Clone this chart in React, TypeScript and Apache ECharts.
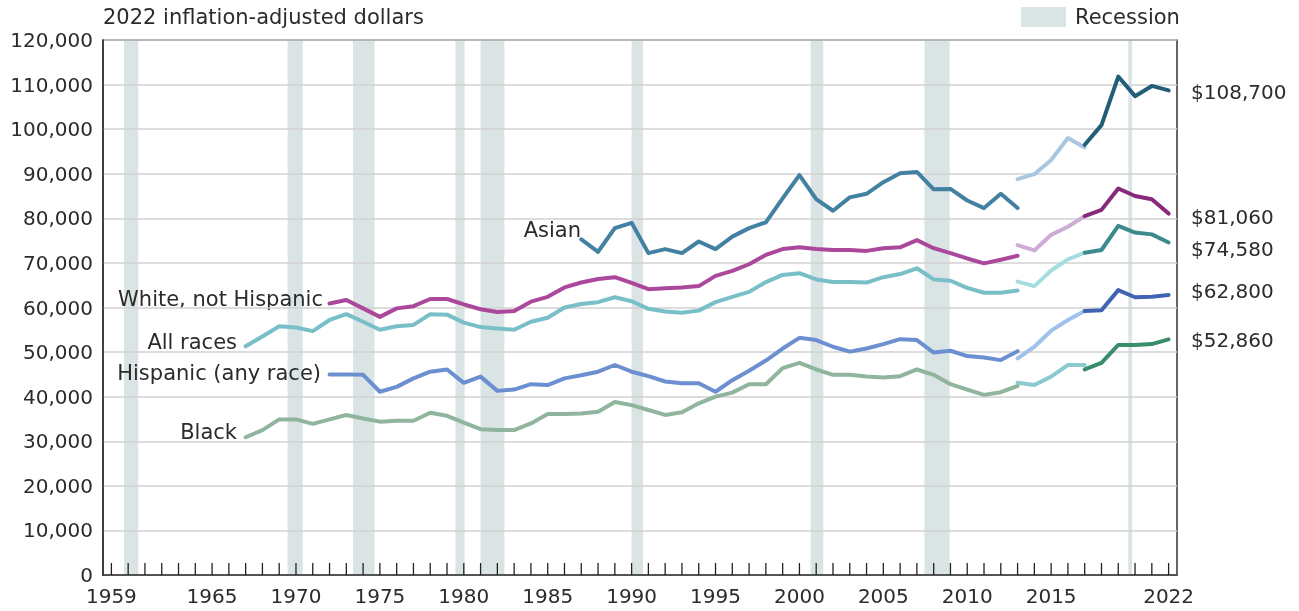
import React, { useEffect, useRef } from "react";
import * as echarts from "echarts";

const FIRST_YEAR = 1959;
const LAST_YEAR = 2022;
const years: string[] = [];
const yearNums: number[] = [];
for (let y = FIRST_YEAR; y <= LAST_YEAR; y++) {
  years.push(String(y));
  yearNums.push(y);
}
const labeledYears = ["1959", "1965", "1970", "1975", "1980", "1985", "1990", "1995", "2000", "2005", "2010", "2015", "2022"];

// Recession periods (in axis year units)
const recessions: [number, number][] = [
  [1959.75, 1960.6],
  [1969.5, 1970.4],
  [1973.4, 1974.68],
  [1979.5, 1980.05],
  [1981.0, 1982.42],
  [1990.0, 1990.68],
  [2000.67, 2001.42],
  [2007.45, 2008.95],
  [2019.6, 2019.82],
];

// Asian
const asianStart1 = 1987;
const asian1 = [75300, 72500, 77800, 79000, 72200, 73100, 72200, 74800, 73100, 75900, 77800, 79100, 84500, 89700, 84300, 81700, 84700, 85500, 88100, 90100, 90400, 86500, 86600, 84000, 82300, 85500, 82300];
const asian2 = [88800, 89900, 93100, 98000, 95900];
const asian3 = [96500, 100900, 111800, 107400, 109700, 108700];

// White, not Hispanic
const whiteStart1 = 1972;
const white1 = [60900, 61700, 59800, 57900, 59800, 60300, 61900, 61900, 60700, 59600, 59000, 59200, 61300, 62400, 64500, 65600, 66400, 66800, 65500, 64100, 64300, 64500, 64800, 67100, 68200, 69700, 71800, 73100, 73500, 73100, 72900, 72900, 72700, 73300, 73500, 75100, 73300, 72200, 71000, 69900, 70700, 71600];
const white2 = [74000, 72800, 76300, 78100, 80500];
const white3 = [80500, 81900, 86700, 85000, 84300, 81060];

// All races
const allStart1 = 1967;
const all1 = [51300, 53500, 55800, 55500, 54700, 57200, 58500, 56800, 55000, 55800, 56100, 58500, 58400, 56600, 55600, 55300, 55000, 56800, 57700, 60000, 60800, 61200, 62300, 61400, 59700, 59100, 58800, 59300, 61200, 62400, 63500, 65700, 67300, 67700, 66300, 65700, 65700, 65600, 66800, 67500, 68800, 66300, 66000, 64400, 63300, 63300, 63800];
const all2 = [65800, 64800, 68300, 70800, 72300];
const all3 = [72300, 72900, 78300, 76800, 76400, 74580];

// Hispanic (any race)
const hispStart1 = 1972;
const hisp1 = [45000, 45000, 44900, 41100, 42200, 44100, 45600, 46100, 43100, 44500, 41300, 41600, 42800, 42600, 44100, 44800, 45600, 47100, 45600, 44600, 43400, 43000, 43000, 41100, 43700, 45800, 48100, 50800, 53200, 52700, 51200, 50100, 50800, 51800, 52900, 52700, 49900, 50300, 49100, 48800, 48200, 50200];
const hisp2 = [48600, 51200, 54800, 57200, 59200];
const hisp3 = [59200, 59400, 63900, 62300, 62400, 62800];

// Black
const blackStart1 = 1967;
const black1 = [30900, 32500, 34900, 34900, 33900, 34900, 35900, 35100, 34400, 34600, 34600, 36400, 35700, 34200, 32700, 32500, 32500, 34000, 36100, 36100, 36200, 36600, 38800, 38100, 37000, 35900, 36500, 38500, 40000, 40900, 42800, 42800, 46400, 47600, 46100, 44900, 44900, 44500, 44300, 44600, 46100, 44900, 42800, 41600, 40400, 41000, 42400];
const black2 = [43100, 42600, 44500, 47100, 47100];
const black3 = [46100, 47600, 51600, 51600, 51800, 52860];

const seg2Start = 2013;
const seg3Start = 2017;

const endLabels = ["$108,700", "$81,060", "$74,580", "$62,800", "$52,860"];

const FONT = "DejaVu Sans";
const TEXT = "#2b2b2b";

function toPairs(start: number, vals: number[]) {
  return vals.map((v, i) => [String(start + i), v]);
}

function lineSeries(name: string, start: number, vals: number[], color: string) {
  return {
    name,
    type: "line",
    xAxisIndex: 0,
    yAxisIndex: 0,
    data: toPairs(start, vals),
    symbol: "none",
    z: 3,
    lineStyle: { color, width: 4, cap: "round", join: "round" },
  };
}

export default function App() {
  const ref = useRef<HTMLDivElement>(null);
  useEffect(() => {
    if (!ref.current) return;
    const chart = echarts.init(ref.current, undefined, { renderer: "svg" });
    const txt = (text: string, x: number, y: number, align: string, size = 21) => ({
      type: "text",
      x,
      y,
      style: { text, fill: TEXT, font: `${size}px "${FONT}"`, textAlign: align, textVerticalAlign: "middle" },
    });
    chart.setOption({
      animation: false,
      textStyle: { fontFamily: FONT },
      grid: { left: 103, right: 122, top: 40, bottom: 36, show: true, borderColor: "#333", borderWidth: 1.5, backgroundColor: "transparent" },
      xAxis: [
        {
          type: "category",
          data: years,
          boundaryGap: true,
          axisLine: { lineStyle: { color: "#333", width: 1.5 } },
          axisTick: { show: false },
          axisLabel: {
            interval: 0,
            formatter: (v: string) => (labeledYears.includes(v) ? v : ""),
            color: TEXT,
            fontSize: 20,
            fontFamily: FONT,
            margin: 11,
            hideOverlap: false,
          },
          splitLine: { show: false },
        },
        { type: "value", min: 1958.5, max: 2022.5, show: false },
      ],
      yAxis: {
        type: "value",
        min: 0,
        max: 120000,
        interval: 10000,
        axisLine: { show: true, lineStyle: { color: "#333", width: 1.5 } },
        axisTick: { show: false },
        axisLabel: {
          color: TEXT,
          fontSize: 20,
          fontFamily: FONT,
          margin: 10,
          formatter: (v: number) => v.toLocaleString("en-US"),
        },
        splitLine: { lineStyle: { color: "#d2d2d2", width: 1.5 } },
      },
      series: [
        {
          type: "custom",
          xAxisIndex: 1,
          yAxisIndex: 0,
          z: -1,
          silent: true,
          encode: { x: [0, 1] },
          data: recessions,
          renderItem: (params: any, api: any) => {
            const a = api.coord([api.value(0), 120000]);
            const b = api.coord([api.value(1), 0]);
            return { type: "rect", shape: { x: a[0], y: a[1], width: b[0] - a[0], height: b[1] - a[1] }, style: { fill: "#dbe4e5" } };
          },
        },
        {
          type: "custom",
          xAxisIndex: 1,
          yAxisIndex: 0,
          z: 10,
          silent: true,
          clip: false,
          encode: { x: 0 },
          data: yearNums.map((y) => [y]),
          renderItem: (params: any, api: any) => {
            const p = api.coord([api.value(0), 0]);
            return {
              type: "line",
              shape: { x1: p[0], y1: p[1], x2: p[0], y2: p[1] - 12 },
              style: { stroke: "#222", lineWidth: 1.3 },
            };
          },
        },
        lineSeries("Asian", asianStart1, asian1, "#4281a2"),
        lineSeries("Asian2", seg2Start, asian2, "#a8c8e1"),
        lineSeries("Asian3", seg3Start, asian3, "#225e78"),
        lineSeries("White", whiteStart1, white1, "#ab489b"),
        lineSeries("White2", seg2Start, white2, "#cdadd6"),
        lineSeries("White3", seg3Start, white3, "#872a7c"),
        lineSeries("All", allStart1, all1, "#78bfc7"),
        lineSeries("All2", seg2Start, all2, "#a4dcdf"),
        lineSeries("All3", seg3Start, all3, "#3c8a8d"),
        lineSeries("Hisp", hispStart1, hisp1, "#6b8fd0"),
        lineSeries("Hisp2", seg2Start, hisp2, "#9fc2ea"),
        lineSeries("Hisp3", seg3Start, hisp3, "#4063b4"),
        lineSeries("Black", blackStart1, black1, "#8fb59d"),
        lineSeries("Black2", seg2Start, black2, "#8ccad1"),
        lineSeries("Black3", seg3Start, black3, "#3a8d6b"),
      ],
      graphic: [
        txt("2022 inflation-adjusted dollars", 103, 17, "left"),
        { type: "rect", shape: { x: 1021, y: 7, width: 45, height: 20 }, style: { fill: "#dbe4e5" } },
        txt("Recession", 1075, 17, "left"),
        txt("Asian", 581, 230, "right"),
        txt("White, not Hispanic", 323, 299, "right"),
        txt("All races", 237, 342, "right"),
        txt("Hispanic (any race)", 321, 373, "right"),
        txt("Black", 237, 432, "right"),
        txt(endLabels[0], 1191, 92, "left", 20),
        txt(endLabels[1], 1191, 217, "left", 20),
        txt(endLabels[2], 1191, 249, "left", 20),
        txt(endLabels[3], 1191, 291, "left", 20),
        txt(endLabels[4], 1191, 340, "left", 20),
      ],
    });
    return () => chart.dispose();
  }, []);
  return <div ref={ref} style={{ position: "fixed", left: 0, top: 0, width: 1299, height: 611 }} />;
}
